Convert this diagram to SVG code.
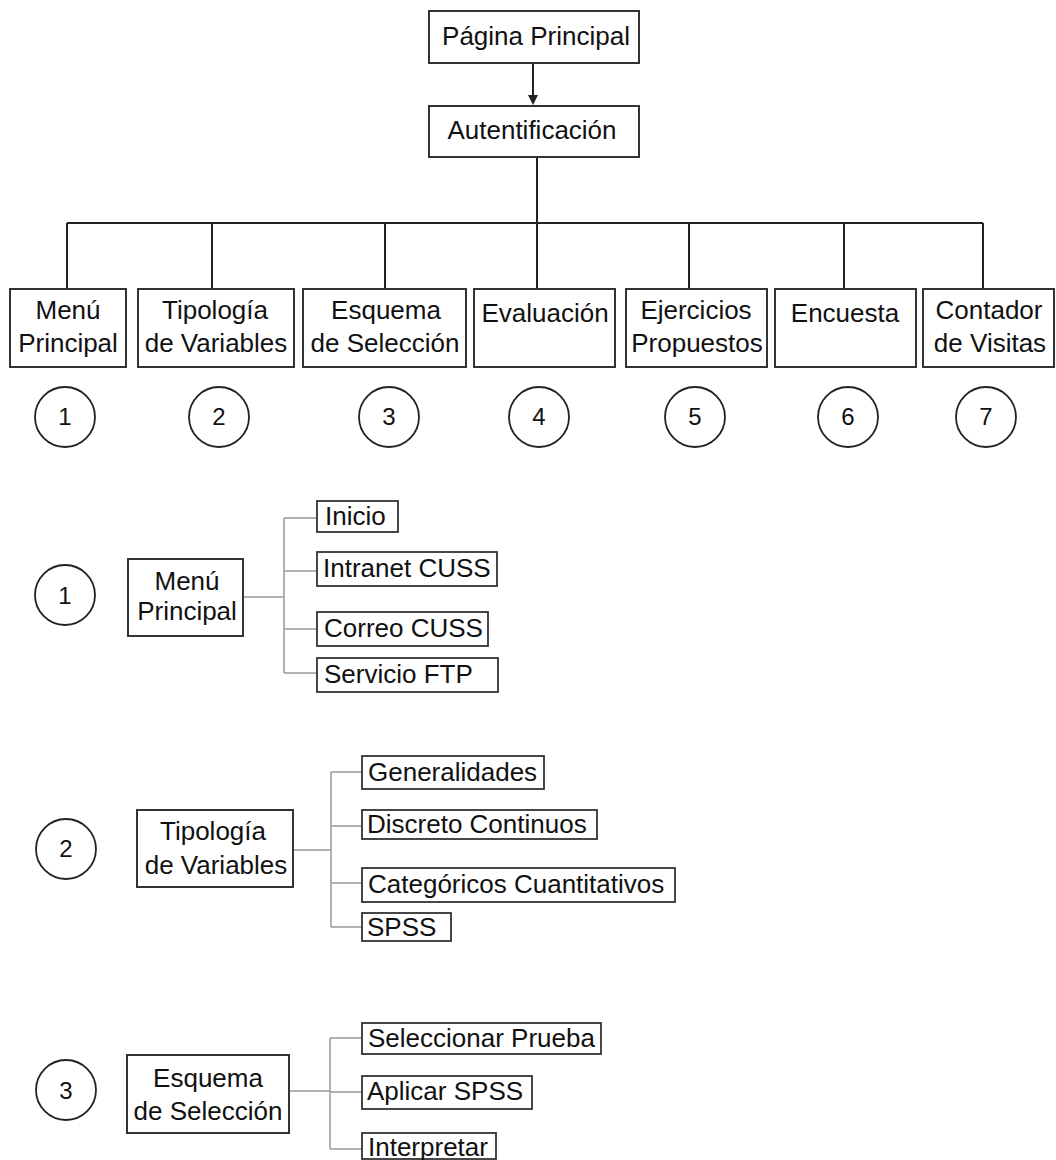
<svg xmlns="http://www.w3.org/2000/svg" width="1056" height="1160" viewBox="0 0 1056 1160">
<style>
text{font-family:"Liberation Sans",Arial,sans-serif;font-size:26px;fill:#111}
.c{text-anchor:middle}
.box{fill:#fff;stroke:#333;stroke-width:2}
.sbox{fill:#fff;stroke:#333;stroke-width:1.8}
.circ{fill:#fff;stroke:#222;stroke-width:1.8}
.num{font-size:24px;text-anchor:middle}
.main{fill:none;stroke:#222;stroke-width:2}
.sub{fill:none;stroke:#999;stroke-width:1.5}
</style>
<rect width="1056" height="1160" fill="#fff"/>
<g id="connectors">
<line class="main" x1="533" y1="63" x2="533" y2="97"/>
<polygon points="528,95 538,95 533,105" fill="#222"/>
<path class="main" d="M537,157 V223 M67,223 H983 M67,223 V289 M212,223 V289 M385,223 V289 M537,223 V289 M689,223 V289 M844,223 V289 M983,223 V289"/>
<path class="sub" d="M243,597 H284 M284,518 V673 M284,518 H317 M284,571 H317 M284,629 H317 M284,673 H317"/>
<path class="sub" d="M293,850 H331 M331,772 V927 M331,772 H362 M331,826 H362 M331,883 H362 M331,927 H362"/>
<path class="sub" d="M289,1091 H330 M330,1038 V1149 M330,1038 H362 M330,1092 H362 M330,1149 H362"/>
</g>
<g id="pagina-principal"><rect class="box" x="429" y="11" width="210" height="52"/><text class="c" x="536" y="45">Página Principal</text></g>
<g id="autentificacion"><rect class="box" x="429" y="106" width="210" height="51"/><text class="c" x="532" y="139">Autentificación</text></g>
<g id="menu-principal"><rect class="box" x="10" y="289" width="116" height="78"/><text class="c" x="68" y="319">Menú</text><text class="c" x="68" y="352">Principal</text></g>
<g id="tipologia"><rect class="box" x="138" y="289" width="156" height="78"/><text class="c" x="215" y="319">Tipología</text><text class="c" x="216" y="352">de Variables</text></g>
<g id="esquema"><rect class="box" x="303" y="289" width="163" height="78"/><text class="c" x="386" y="319">Esquema</text><text class="c" x="385" y="352">de Selección</text></g>
<g id="evaluacion"><rect class="box" x="474" y="289" width="141" height="78"/><text class="c" x="545" y="322">Evaluación</text></g>
<g id="ejercicios"><rect class="box" x="626" y="289" width="141" height="78"/><text class="c" x="696" y="319">Ejercicios</text><text class="c" x="697" y="352">Propuestos</text></g>
<g id="encuesta"><rect class="box" x="775" y="289" width="141" height="78"/><text class="c" x="845" y="322">Encuesta</text></g>
<g id="contador"><rect class="box" x="923" y="289" width="131" height="78"/><text class="c" x="989" y="319">Contador</text><text class="c" x="990" y="352">de Visitas</text></g>
<g id="n1"><circle class="circ" cx="65" cy="417" r="30"/><text class="num" x="65" y="425">1</text></g>
<g id="n2"><circle class="circ" cx="219" cy="417" r="30"/><text class="num" x="219" y="425">2</text></g>
<g id="n3"><circle class="circ" cx="389" cy="417" r="30"/><text class="num" x="389" y="425">3</text></g>
<g id="n4"><circle class="circ" cx="539" cy="417" r="30"/><text class="num" x="539" y="425">4</text></g>
<g id="n5"><circle class="circ" cx="695" cy="417" r="30"/><text class="num" x="695" y="425">5</text></g>
<g id="n6"><circle class="circ" cx="848" cy="417" r="30"/><text class="num" x="848" y="425">6</text></g>
<g id="n7"><circle class="circ" cx="986" cy="417" r="30"/><text class="num" x="986" y="425">7</text></g>
<g id="s1-num"><circle class="circ" cx="65" cy="595" r="30"/><text class="num" x="65" y="604">1</text></g>
<g id="s1-menu"><rect class="box" x="128" y="559" width="115" height="77"/><text class="c" x="187" y="590">Menú</text><text class="c" x="187" y="620">Principal</text></g>
<g id="s1-inicio"><rect class="sbox" x="317" y="501" width="81" height="31"/><text x="325" y="525">Inicio</text></g>
<g id="s1-intranet"><rect class="sbox" x="317" y="552" width="180" height="34"/><text x="323" y="577">Intranet CUSS</text></g>
<g id="s1-correo"><rect class="sbox" x="317" y="612" width="171" height="34"/><text x="324" y="637">Correo CUSS</text></g>
<g id="s1-ftp"><rect class="sbox" x="317" y="658" width="181" height="34"/><text x="324" y="683">Servicio FTP</text></g>
<g id="s2-num"><circle class="circ" cx="66" cy="849" r="30"/><text class="num" x="66" y="857">2</text></g>
<g id="s2-tipologia"><rect class="box" x="137" y="810" width="156" height="77"/><text class="c" x="213" y="840">Tipología</text><text class="c" x="216" y="874">de Variables</text></g>
<g id="s2-generalidades"><rect class="sbox" x="362" y="756" width="182" height="33"/><text x="368" y="781">Generalidades</text></g>
<g id="s2-discreto"><rect class="sbox" x="362" y="810" width="235" height="29"/><text x="367" y="833">Discreto Continuos</text></g>
<g id="s2-categoricos"><rect class="sbox" x="362" y="868" width="313" height="34"/><text x="368" y="893">Categóricos Cuantitativos</text></g>
<g id="s2-spss"><rect class="sbox" x="362" y="913" width="89" height="28"/><text x="367" y="936">SPSS</text></g>
<g id="s3-num"><circle class="circ" cx="66" cy="1090" r="30"/><text class="num" x="66" y="1099">3</text></g>
<g id="s3-esquema"><rect class="box" x="127" y="1055" width="162" height="78"/><text class="c" x="208" y="1087">Esquema</text><text class="c" x="208" y="1120">de Selección</text></g>
<g id="s3-seleccionar"><rect class="sbox" x="362" y="1023" width="239" height="31"/><text x="368" y="1047">Seleccionar Prueba</text></g>
<g id="s3-aplicar"><rect class="sbox" x="362" y="1076" width="170" height="33"/><text x="367" y="1100">Aplicar SPSS</text></g>
<g id="s3-interpretar"><rect class="sbox" x="362" y="1133" width="134" height="26"/><text x="368" y="1156">Interpretar</text></g>
</svg>
